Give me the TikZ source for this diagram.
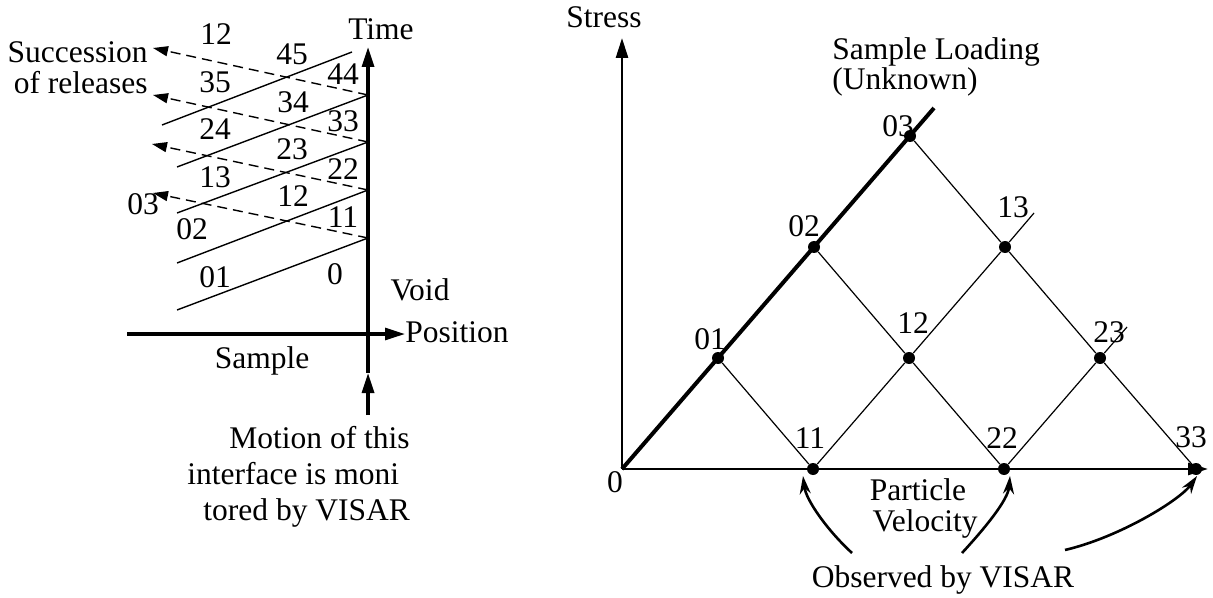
\documentclass[tikz,border=0pt]{standalone}
\usepackage{fontspec}
\setmainfont{Liberation Serif}
\usepackage{tikz}
\usetikzlibrary{arrows.meta}

\tikzset{
  lbl/.style={inner sep=0pt,anchor=base,font=\fontsize{15.75}{16}\selectfont},
  wave/.style={line width=0.7pt},
  release/.style={line width=0.7pt,dash pattern=on 5pt off 3pt,-{Triangle[length=7.5pt,width=5pt]}},
  axisline/.style={line width=1.6pt,-{Triangle[length=10pt,width=6pt]}},
  lattice/.style={line width=0.6pt},
  dot/.style={circle,fill,inner sep=0pt,minimum size=6pt},
  observed/.style={line width=1.3pt,-{Stealth[length=9pt,width=5.5pt]}}
}

\begin{document}
\begin{tikzpicture}[x=0.5pt,y=-0.5pt]
\useasboundingbox (0,0) rectangle (1213,598);
% left: position - time picture of the sample
\coordinate (t0) at (368,373);
\coordinate (ttop) at (368,47);
\coordinate (t1) at (368,238);
\coordinate (t2) at (368,190);
\coordinate (t3) at (368,142);
\coordinate (t4) at (368,95);
\coordinate (pleft) at (127,334);
\coordinate (pright) at (405,334);
\coordinate (mbot) at (368,415);
\draw[axisline](t0)--(ttop);
\draw[axisline](pleft)--(pright);
\draw[axisline](mbot)--(t0);
\coordinate (w1) at (177,310);
\coordinate (w2) at (177,263);
\coordinate (w3) at (177,213);
\coordinate (w4) at (177,167);
\coordinate (w5a) at (162,125);
\coordinate (w5b) at (352,52);
\draw[wave](w1)--(t1)
(w2)--(t2)
(w3)--(t3)
(w4)--(t4)
(w5a)--(w5b);
\coordinate (r1) at (153,193);
\coordinate (r2) at (152,144);
\coordinate (r3) at (153,95);
\coordinate (r4) at (153,48);
\draw[release](t1)--(r1);
\draw[release](t2)--(r2);
\draw[release](t3)--(r3);
\draw[release](t4)--(r4);
\node[lbl](time) at (381,40){Time};
\node[lbl,anchor=base east](succ) at (148,63){Succession};
\node[lbl,anchor=base east](rel) at (148,94){of releases};
\node[lbl](void) at (420,300){Void};
\node[lbl,anchor=base west](pos) at (405,342){Position};
\node[lbl](samp) at (262,368){Sample};
\node[lbl,anchor=base west](mot1) at (229,448){Motion of this};
\node[lbl,anchor=base west](mot2) at (187,484){interface is moni};
\node[lbl,anchor=base west](mot3) at (203,520){tored by VISAR};
\node[lbl](a12) at (216,45){12};
\node[lbl](a45) at (292,65){45};
\node[lbl](a44) at (343,85){44};
\node[lbl](a35) at (215,93){35};
\node[lbl](a34) at (293,113){34};
\node[lbl](a33) at (343,132){33};
\node[lbl](a24) at (215,140){24};
\node[lbl](a23) at (292,160){23};
\node[lbl](a22) at (343,180){22};
\node[lbl](a13) at (215,188){13};
\node[lbl](b12) at (293,207){12};
\node[lbl](a11) at (343,228){11};
\node[lbl](a03) at (143,215){03};
\node[lbl](a02) at (192,240){02};
\node[lbl](a01) at (215,287){01};
\node[lbl](a0) at (335,285){0};
% right: stress - particle velocity plane
\coordinate (O) at (622,469);
\coordinate (stop) at (622,38);
\coordinate (uend) at (1208,469);
\draw[axisline,line width=1.3pt](O)--(stop);
\draw[axisline,line width=1.3pt](O)--(uend);
\node[dot](v01) at (718,358){};
\node[dot](v02) at (814,247){};
\node[dot](v03) at (910,136){};
\node[dot](v11) at (813,469){};
\node[dot](v12) at (909,358){};
\node[dot](v13) at (1005,247){};
\node[dot](v22) at (1004,469){};
\node[dot](v23) at (1100,358){};
\node[dot](v33) at (1196,469){};
\coordinate (e03) at (934,108);
\coordinate (e13) at (1034,213);
\coordinate (e23) at (1127,327);
\draw[line width=2pt](O)--(e03);
\draw[lattice](v01)--(v11);
\draw[lattice](v02)--(v12)--(v22);
\draw[lattice](v03)--(v13)--(v23)--(v33);
\draw[lattice](v11)--(v12)--(v13)--(e13);
\draw[lattice](v22)--(v23)--(e23);
\node[lbl](c01) at (710,350){01};
\node[lbl](c02) at (804,237){02};
\node[lbl](c03) at (898,137){03};
\node[lbl](c11) at (810,448){11};
\node[lbl](c12) at (913,333){12};
\node[lbl](c13) at (1013,218){13};
\node[lbl](c22) at (1002,448){22};
\node[lbl](c23) at (1109,342){23};
\node[lbl](c33) at (1191,447){33};
\node[lbl](c0) at (615,492){0};
\node[lbl](stress) at (604,28){Stress};
\node[lbl,anchor=base west](load) at (832,60){Sample Loading};
\node[lbl,anchor=base west](unk) at (832,90){(Unknown)};
\node[lbl](part) at (918,500){Particle};
\node[lbl](velo) at (925,531){Velocity};
\node[lbl](obs) at (943,587){Observed by VISAR};
\coordinate (o11) at (852,553);
\coordinate (o22) at (962,553);
\coordinate (o33) at (1065,550);
\coordinate (tip11) at (803,476);
\coordinate (tip22) at (1010,476);
\coordinate (tip33) at (1197,476);
\draw[observed](o11)..controls(827,530)and(806,500)..(tip11);
\draw[observed](o22)..controls(985,528)and(1008,500)..(tip22);
\draw[observed](o33)..controls(1120,537)and(1180,500)..(tip33);
\end{tikzpicture}
\end{document}
